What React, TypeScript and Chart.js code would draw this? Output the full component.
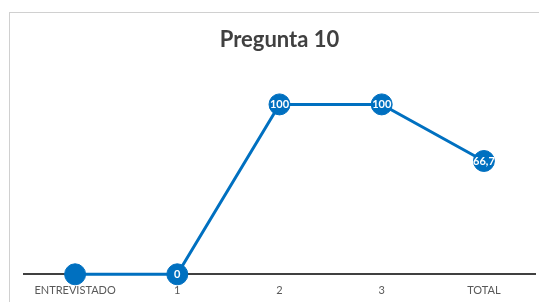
import React, { useEffect, useRef } from "react";
import { Chart, registerables } from "chart.js";

Chart.register(...registerables);

const categories = ["ENTREVISTADO", "1", "2", "3", "TOTAL"];
const values = [0, 0, 100, 100, 66.7];
const pointLabels = ["", "0", "100", "100", "66,7"];
const chartTitle = "Pregunta 10";

const FONT = "Lato, 'Open Sans', sans-serif";
const BLUE = "#0070C0";

const valueLabelPlugin = {
  id: "valueLabels",
  afterDatasetsDraw(chart: any) {
    const ctx = chart.ctx;
    const meta = chart.getDatasetMeta(0);
    ctx.save();
    ctx.font = `bold 11px ${FONT}`;
    ctx.fillStyle = "#ffffff";
    ctx.textAlign = "center";
    ctx.textBaseline = "middle";
    meta.data.forEach((pt: any, i: number) => {
      const txt = pointLabels[i];
      if (txt) ctx.fillText(txt, pt.x, pt.y + 0.5);
    });
    ctx.restore();
  },
};

export default function App() {
  const ref = useRef<HTMLCanvasElement | null>(null);
  useEffect(() => {
    if (!ref.current) return;
    const chart = new Chart(ref.current, {
      type: "line",
      data: {
        labels: categories,
        datasets: [
          {
            data: values,
            borderColor: BLUE,
            backgroundColor: BLUE,
            borderWidth: 3,
            pointRadius: 10.5,
            pointBorderWidth: 1,
            pointBorderColor: BLUE,
            pointBackgroundColor: BLUE,
            tension: 0,
            clip: false as any,
          },
        ],
      },
      options: {
        animation: false,
        responsive: false,
        maintainAspectRatio: false,
        layout: { autoPadding: false, padding: { left: 24, right: 4, top: 0, bottom: -5.5 } },
        plugins: {
          legend: { display: false },
          tooltip: { enabled: false },
          title: {
            display: true,
            text: chartTitle,
            color: "#404040",
            font: { family: FONT, size: 22, weight: "bold" },
            padding: { top: 27, bottom: 51 },
          },
        },
        scales: {
          x: {
            offset: true,
            grid: { display: false, drawTicks: false },
            border: { display: true, color: "#404040", width: 2 },
            ticks: {
              color: "#595959",
              font: { family: FONT, size: 11 },
              padding: 10,
              maxRotation: 0,
            },
          },
          y: {
            display: false,
            min: 0,
            max: 100,
          },
        },
      },
      plugins: [valueLabelPlugin],
    });
    return () => chart.destroy();
  }, []);
  return (
    <div style={{ position: "fixed", left: 0, top: 0, width: 539, height: 302, background: "#fff", overflow: "hidden" }}>
      <div
        style={{
          position: "absolute",
          left: 9,
          top: 12,
          width: 600,
          height: 400,
          borderLeft: "1px solid #d0d0d0",
          borderTop: "1px solid #d0d0d0",
        }}
      />
      <canvas ref={ref} width={539} height={302} style={{ position: "absolute", left: 0, top: 0 }} />
    </div>
  );
}
